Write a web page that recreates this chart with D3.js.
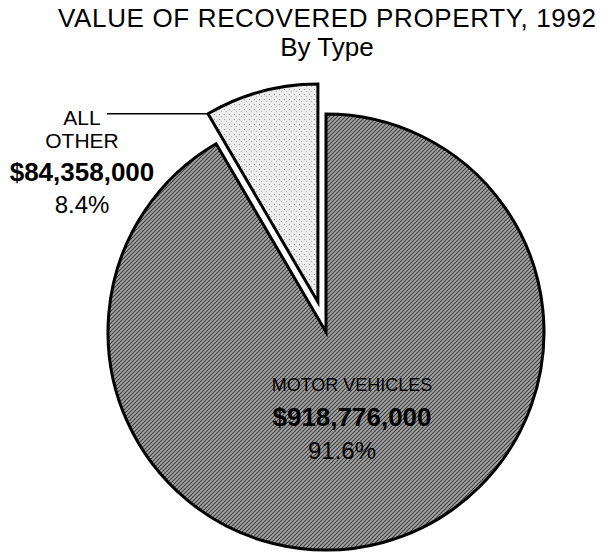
<!DOCTYPE html>
<html>
<head>
<meta charset="utf-8">
<script src="https://cdn.jsdelivr.net/npm/d3@7"></script>
<style>
  body { margin: 0; background: #fff; }
  text { font-family: "Liberation Sans", Arial, sans-serif; fill: #000; }
</style>
</head>
<body>
<div id="chart"></div>
<script>
const categories = ["MOTOR VEHICLES", "ALL OTHER"];
const values = [918776000, 84358000];
const percentLabels = ["91.6%", "8.4%"];
const dollarLabels = ["$918,776,000", "$84,358,000"];

const width = 603;
const height = 554;
const cx = 326;
const cy = 332;
const radius = 218;
const explode = 31;

const svg = d3.select("#chart")
    .append("svg")
    .attr("width", width)
    .attr("height", height);

// textures for the two slices
const defs = svg.append("defs");
const dark = defs.append("pattern")
    .attr("id", "darkFill")
    .attr("width", 4)
    .attr("height", 4)
    .attr("patternUnits", "userSpaceOnUse");
dark.append("rect").attr("width", 4).attr("height", 4).attr("fill", "#a6a6a6");
dark.append("path").attr("d", "M0,4 L4,0 M-1,1 L1,-1 M3,5 L5,3")
    .attr("stroke", "#3c3c3c").attr("stroke-width", 1.1);

const light = defs.append("pattern")
    .attr("id", "lightFill")
    .attr("width", 5)
    .attr("height", 5)
    .attr("patternUnits", "userSpaceOnUse");
light.append("rect").attr("width", 5).attr("height", 5).attr("fill", "#ededed");
light.append("rect").attr("x", 1).attr("y", 2).attr("width", 1).attr("height", 1).attr("fill", "#888");
light.append("rect").attr("x", 3).attr("y", 4).attr("width", 1).attr("height", 1).attr("fill", "#aaa");

// title
svg.append("text")
    .attr("x", 327)
    .attr("y", 27)
    .attr("text-anchor", "middle")
    .attr("textLength", 538)
    .attr("lengthAdjust", "spacing")
    .style("font-size", "26px")
    .text("VALUE OF RECOVERED PROPERTY, 1992");

svg.append("text")
    .attr("x", 327)
    .attr("y", 56)
    .attr("text-anchor", "middle")
    .style("font-size", "26px")
    .text("By Type");

const pie = d3.pie().sort(null).value(d => d)(values);
const arc = d3.arc().innerRadius(0).outerRadius(radius);

const g = svg.append("g")
    .attr("transform", `translate(${cx}, ${cy})`);

g.selectAll("path.slice")
    .data(pie)
    .enter()
    .append("path")
    .attr("class", "slice")
    .attr("transform", (d, i) => {
        if (i === 0) return null;
        const mid = (d.startAngle + d.endAngle) / 2;
        const [ox, oy] = d3.pointRadial(mid, explode);
        return `translate(${ox}, ${oy})`;
    })
    .attr("d", arc)
    .attr("fill", (d, i) => i === 0 ? "url(#darkFill)" : "url(#lightFill)")
    .attr("stroke", "#000")
    .attr("stroke-width", 3)
    .attr("stroke-linejoin", "miter");

// leader line for ALL OTHER
const other = pie[1];
const otherMid = (other.startAngle + other.endAngle) / 2;
const off = d3.pointRadial(otherMid, explode);
const corner = d3.pointRadial(other.startAngle, radius);
g.append("line")
    .attr("x1", 107 - cx)
    .attr("y1", corner[1] + off[1])
    .attr("x2", corner[0] + off[0])
    .attr("y2", corner[1] + off[1])
    .attr("stroke", "#000")
    .attr("stroke-width", 1.5);

// ALL OTHER label
const leftX = 82;
svg.append("text").attr("x", leftX).attr("y", 125).attr("text-anchor", "middle")
    .style("font-size", "21px").text("ALL");
svg.append("text").attr("x", leftX).attr("y", 148).attr("text-anchor", "middle")
    .style("font-size", "21px").text("OTHER");
svg.append("text").attr("x", leftX).attr("y", 181).attr("text-anchor", "middle")
    .style("font-size", "26px").style("font-weight", "bold").text(dollarLabels[1]);
svg.append("text").attr("x", leftX).attr("y", 213).attr("text-anchor", "middle")
    .style("font-size", "24px").text(percentLabels[1]);

// MOTOR VEHICLES label, inside the slice
const inX = 352;
svg.append("text").attr("x", inX).attr("y", 391).attr("text-anchor", "middle")
    .style("font-size", "18px").text(categories[0]);
svg.append("text").attr("x", inX).attr("y", 426).attr("text-anchor", "middle")
    .style("font-size", "26px").style("font-weight", "bold").text(dollarLabels[0]);
svg.append("text").attr("x", 342).attr("y", 459).attr("text-anchor", "middle")
    .style("font-size", "24px").text(percentLabels[0]);
</script>
</body>
</html>
